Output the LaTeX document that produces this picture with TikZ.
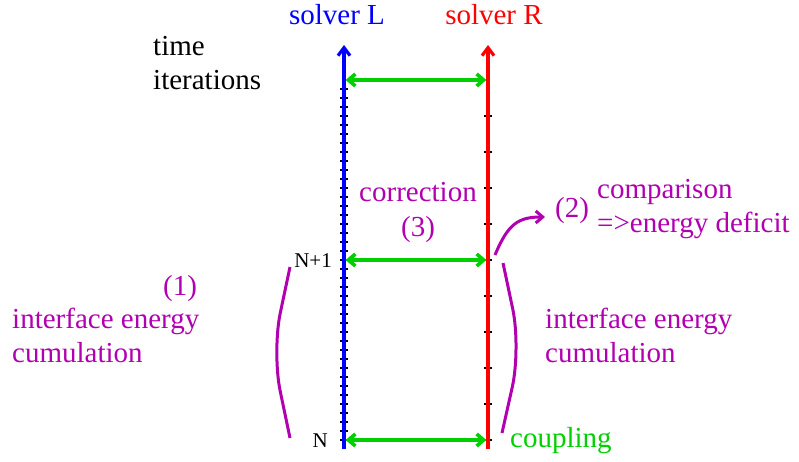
\documentclass[tikz,border=0pt]{standalone}
\usepackage{fontspec}
\setmainfont{Liberation Serif}
\usetikzlibrary{arrows.meta}
\definecolor{solverblue}{RGB}{0,0,255}
\definecolor{solverred}{RGB}{255,0,0}
\definecolor{coupgreen}{RGB}{0,208,0}
\definecolor{energymag}{RGB}{176,0,176}
\tikzstyle{txt} = [inner sep=0pt, font=\fontsize{29}{34}\selectfont, align=left]
\tikzstyle{small} = [inner sep=0pt, font=\fontsize{21}{25}\selectfont]
\tikzstyle{axis} = [line width=3.2pt, -{Straight Barb[length=8pt,width=12pt]}]
\tikzstyle{couple} = [coupgreen, line width=3.6pt, {Straight Barb[length=7pt,width=12pt]}-{Straight Barb[length=7pt,width=12pt]}, shorten <=1.6pt, shorten >=1.6pt]
\tikzstyle{brace} = [energymag, line width=3pt, rounded corners=40pt]
\tikzstyle{tick} = [black, line width=1.6pt]

\begin{document}
\begin{tikzpicture}[x=1pt, y=-1pt]
    \useasboundingbox (0,0) rectangle (799,462);
    % axes of the two solvers
    \coordinate (Lbot) at (344,449);
    \coordinate (Ltop) at (344,45);
    \coordinate (Rbot) at (488,449);
    \coordinate (Rtop) at (488,45);
    \foreach \k in {1,...,40}
        \draw[tick] (340,80+9*\k) -- (348,80+9*\k);
    \foreach \k in {1,...,10}
        \draw[tick] (484,80+36*\k) -- (492,80+36*\k);
    \draw[axis, solverblue] (Lbot) -- (Ltop);
    \draw[axis, solverred] (Rbot) -- (Rtop);

    \node[txt, solverblue, anchor=base] (solverL) at (337,25) {solver L};
    \node[txt, solverred, anchor=base] (solverR) at (494,25) {solver R};
    \node[txt, anchor=base west] (timeit) at (153,90) {time\\iterations};

    % coupling exchanges
    \coordinate (Lstart) at (344,440);
    \coordinate (Rstart) at (488,440);
    \coordinate (Lnext) at (344,260);
    \coordinate (Rnext) at (488,260);
    \coordinate (Lend) at (344,80);
    \coordinate (Rend) at (488,80);
    \draw[couple] (Lstart) -- (Rstart);
    \draw[couple] (Lnext) -- (Rnext);
    \draw[couple] (Lend) -- (Rend);

    \node[small, anchor=base east] (stepN1) at (332,267) {N+1};
    \node[small, anchor=base east] (stepN) at (328,447) {N};
    \node[txt, coupgreen, anchor=base west] (coupling) at (510,447) {coupling};

    % energy balance
    \draw[brace] (290,267) -- (272,352) -- (290,438);
    \draw[brace] (503,263) -- (521,348) -- (502,433);
    \node[txt, energymag, anchor=base] (step1) at (180,295) {(1)};
    \node[txt, energymag, anchor=base west] (cumL) at (12,362) {interface energy\\cumulation};
    \node[txt, energymag, anchor=base west] (cumR) at (545,362) {interface energy\\cumulation};

    \coordinate (cmpfrom) at (495,255);
    \coordinate (cmpto) at (545,217);
    \draw[energymag, line width=3pt, -{Straight Barb[length=7pt,width=12pt]}] (cmpfrom) .. controls (508,224) and (518,217) .. (cmpto);
    \node[txt, energymag, anchor=base west] (step2) at (555,218) {(2)};
    \node[txt, energymag, anchor=base west] (deficit) at (597,233) {comparison\\=>energy deficit};

    \node[txt, energymag, align=center, anchor=base] (corr) at (418,236) {correction\\(3)};
\end{tikzpicture}
\end{document}
